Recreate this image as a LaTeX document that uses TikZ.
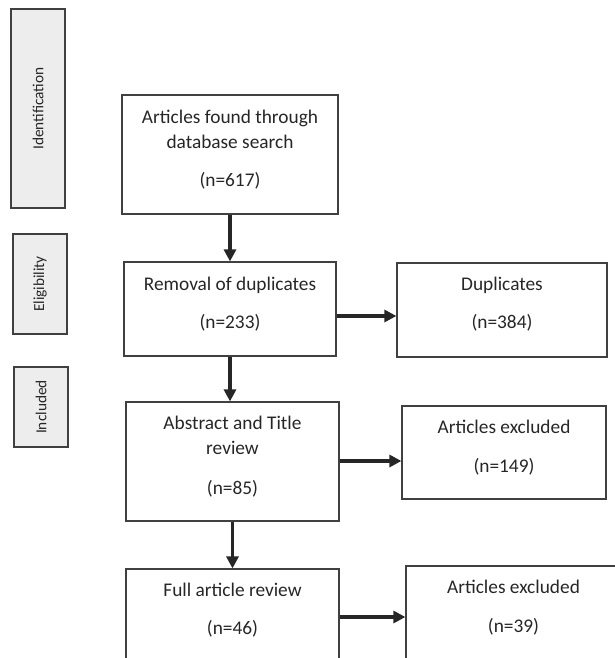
\documentclass[tikz,border=0pt]{standalone}
\usepackage{fontspec}
\setmainfont{Carlito}
\usetikzlibrary{positioning,arrows.meta}

\definecolor{framegray}{HTML}{404040}
\definecolor{phasefill}{HTML}{EDEDED}
\definecolor{inkgray}{HTML}{262626}

\tikzset{
  flowbox/.style={draw=framegray, line width=0.9pt, rectangle, inner sep=0pt},
  phasebox/.style={draw=framegray, fill=phasefill, line width=1.4pt, rectangle,
    inner sep=0pt, rotate=90, minimum height=40.5pt, text=inkgray,
    font=\fontsize{11.5pt}{13pt}\selectfont},
  boxtext/.style={inner sep=0pt, align=center, text=inkgray,
    font=\fontsize{14.5pt}{18.75pt}\selectfont},
  flowarrow/.style={draw=inkgray, line width=2.6pt,
    -{Triangle[length=9pt, width=9pt]}}
}

\begin{document}
\begin{tikzpicture}[x=0.75pt,y=0.75pt,yscale=-1,xscale=1]
  \useasboundingbox (0,0) rectangle (615,658);
  \clip (0,0) rectangle (615,658);

  % phase labels down the left side
  \node[phasebox, minimum width=149.25pt] (ident) at (38,108.5) {Identification};
  \node[phasebox, minimum width=75pt] (elig) at (40,284) {Eligibility};
  \node[phasebox, minimum width=60pt] (incl) at (41,407) {Included};

  % main column
  \node[flowbox, minimum width=162pt, minimum height=89.25pt] (found) at (230,154.5) {};
  \node[boxtext, below=11.5pt of found.north] (foundtxt)
    {Articles found through\\database search\\[9.5pt](n=617)};

  \node[flowbox, minimum width=159pt, minimum height=70.5pt] (dedup) at (230,309) {};
  \node[boxtext, below=11.5pt of dedup.north] (deduptxt)
    {Removal of duplicates\\[9.5pt](n=233)};

  \node[flowbox, minimum width=159.75pt, minimum height=89.25pt] (screen) at (232.5,461.5) {};
  \node[boxtext, below=11pt of screen.north] (screentxt)
    {Abstract and Title\\review\\[11pt](n=85)};

  \node[flowbox, minimum width=159.75pt, minimum height=90pt] (full) at (232.5,629) {};
  \node[boxtext, below=11pt of full.north] (fulltxt)
    {Full article review\\[9.5pt](n=46)};

  % excluded column
  \node[flowbox, minimum width=157.5pt, minimum height=70.5pt] (dupl) at (502,310) {};
  \node[boxtext, below=11pt of dupl.north] (dupltxt)
    {Duplicates\\[9.5pt](n=384)};

  \node[flowbox, minimum width=153pt, minimum height=69.75pt] (excla) at (504,452.5) {};
  \node[boxtext, below=10.5pt of excla.north] (exclatxt)
    {Articles excluded\\[11pt](n=149)};

  \node[flowbox, minimum width=161.25pt, minimum height=75pt] (exclb) at (513.5,616) {};
  \node[boxtext, below=10.5pt of exclb.north] (exclbtxt)
    {Articles excluded\\[10.5pt](n=39)};

  % arrows
  \draw[flowarrow] (found.south) -- (dedup.north);
  \draw[flowarrow] (dedup.south) -- (screen.north -| dedup.south);
  \draw[flowarrow] (screen.south) -- (full.north);
  \draw[flowarrow] (dedup.east |- 0,316) -- (dupl.west |- 0,316);
  \draw[flowarrow] (screen.east |- 0,461) -- (excla.west |- 0,461);
  \draw[flowarrow] (full.east |- 0,617) -- (exclb.west |- 0,617);
\end{tikzpicture}
\end{document}
